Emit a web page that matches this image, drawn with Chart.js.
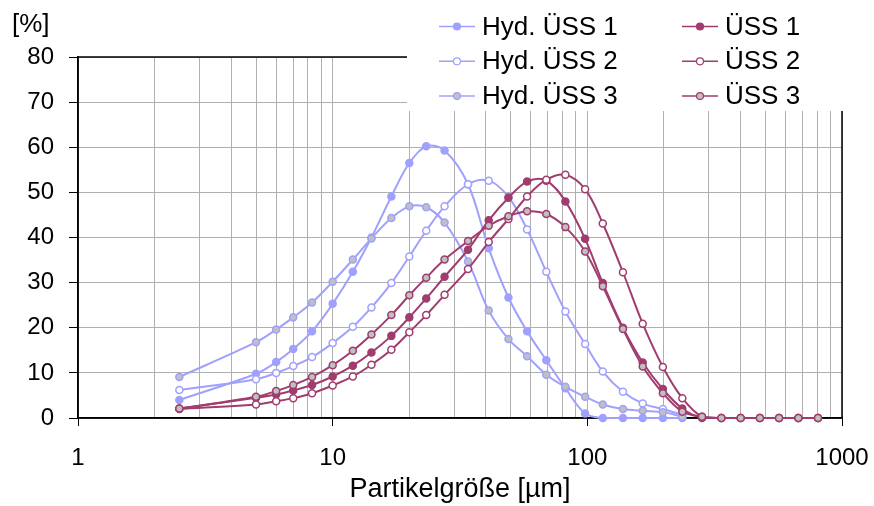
<!DOCTYPE html>
<html>
<head>
<meta charset="utf-8">
<script src="https://cdn.jsdelivr.net/npm/chart.js@4/dist/chart.umd.min.js"></script>
<style>
  html, body { margin: 0; padding: 0; background: #fff; }
  #wrap { width: 874px; height: 506px; }
</style>
</head>
<body>
<div id="wrap"><canvas id="mychart" width="874" height="506"></canvas></div>
<script>
// Partikelgröße in µm (gemeinsame Stützstellen)
const groessen = [2.5, 5, 6, 7, 8.3, 10, 12, 14.2, 17, 20, 23.3, 27.5, 34, 41, 49, 58, 69, 82, 98, 115, 138, 165, 198, 236, 282, 336, 400, 476, 566, 674, 805]

// Anteil in %
const hydUss1 = [4.0, 9.8, 12.4, 15.3, 19.2, 25.3, 32.4, 40.0, 49.1, 56.5, 60.2, 59.3, 51.8, 37.6, 26.7, 19.2, 12.8, 6.6, 1.0, 0, 0, 0, 0, 0]
const hydUss2 = [6.2, 8.6, 10.0, 11.5, 13.5, 16.6, 20.2, 24.5, 29.9, 35.8, 41.5, 46.9, 51.8, 52.6, 49.0, 41.8, 32.4, 23.6, 16.4, 10.3, 5.8, 3.2, 2.0, 0.7]
const hydUss3 = [9.1, 16.8, 19.6, 22.3, 25.6, 30.2, 35.1, 39.8, 44.3, 46.9, 46.7, 43.3, 34.7, 23.8, 17.5, 13.7, 9.6, 6.9, 4.7, 3.0, 2.0, 1.6, 1.3, 0.3]
const uss1 = [2.1, 4.5, 5.2, 6.1, 7.3, 9.2, 11.6, 14.5, 18.2, 22.3, 26.5, 31.3, 37.3, 43.8, 48.8, 52.4, 52.6, 48.0, 39.7, 29.9, 20.0, 12.3, 6.4, 2.1, 0, 0, 0, 0, 0, 0, 0]
const uss2 = [2.0, 3.0, 3.7, 4.4, 5.5, 7.2, 9.2, 11.8, 15.1, 19.0, 22.8, 27.3, 33.0, 39.0, 44.1, 49.1, 52.8, 53.9, 50.7, 43.1, 32.3, 20.9, 11.3, 4.4, 0.3, 0, 0, 0, 0, 0, 0]
const uss3 = [2.1, 4.7, 6.0, 7.3, 9.1, 11.7, 14.9, 18.5, 22.8, 27.2, 31.1, 35.1, 39.2, 42.6, 44.7, 45.8, 45.2, 42.3, 36.9, 29.2, 19.7, 11.4, 5.5, 1.4, 0.3, 0, 0, 0, 0, 0, 0]

const namen = ['Hyd. ÜSS 1', 'Hyd. ÜSS 2', 'Hyd. ÜSS 3', 'ÜSS 1', 'ÜSS 2', 'ÜSS 3']
const reihen = [hydUss1, hydUss2, hydUss3, uss1, uss2, uss3]

const yTicks = [0, 10, 20, 30, 40, 50, 60, 70, 80]
const xTicks = []
for (let d = 1; d < 1000; d *= 10) {
    for (let m = 1; m < 10; m++) xTicks.push(m * d)
}
xTicks.push(1000)

const blau = '#a0a0ff'
const pflaume = '#a03c6e'
const fuellung = ['solid', 'white', '#c0c0c0']
const schrift = '"Liberation Sans", Arial, sans-serif'

function istDekade(v) {
    return [1, 10, 100, 1000].includes(v)
}

const datasets = reihen.map((werte, i) => {
    const farbe = i < 3 ? blau : pflaume
    const f = fuellung[i % 3]
    return {
        label: namen[i],
        data: werte.map((y, k) => ({ x: groessen[k], y: y })),
        borderColor: farbe,
        backgroundColor: farbe,
        pointBackgroundColor: f === 'solid' ? farbe : f,
        pointBorderColor: farbe,
        pointBorderWidth: 1.5,
        pointRadius: 3.5,
        borderWidth: 2,
        tension: 0.35,
        clip: false,
        order: 6 - i
    }
})

// Legende oben rechts mit weißem Hintergrund, dazu "[%]" über der y-Achse
const extras = {
    id: 'extras',
    beforeDatasetsDraw(chart) {
        const a = chart.chartArea
        const ctx = chart.ctx
        ctx.save()
        ctx.strokeStyle = '#000'
        ctx.lineWidth = 1.5
        ctx.strokeRect(a.left, a.top, a.right - a.left, a.bottom - a.top)
        ctx.restore()
    },
    afterDraw(chart) {
        const ctx = chart.ctx
        ctx.save()
        ctx.fillStyle = '#fff'
        ctx.fillRect(407, 0, 874 - 407, 111)

        chart.data.datasets.forEach((ds, i) => {
            const col = i < 3 ? 0 : 1
            const row = i % 3
            const x0 = 439 + col * 243
            const y = 26.5 + row * 34.8
            ctx.strokeStyle = ds.borderColor
            ctx.lineWidth = 1.5
            ctx.beginPath()
            ctx.moveTo(x0, y)
            ctx.lineTo(x0 + 36, y)
            ctx.stroke()
            ctx.beginPath()
            ctx.arc(x0 + 18, y, 3.5, 0, Math.PI * 2)
            ctx.fillStyle = ds.pointBackgroundColor
            ctx.fill()
            ctx.lineWidth = 1.2
            ctx.stroke()
            ctx.fillStyle = '#000'
            ctx.font = '26px ' + schrift
            ctx.textBaseline = 'middle'
            ctx.fillText(ds.label, x0 + 43, y + 1)
        })

        ctx.fillStyle = '#000'
        ctx.font = '26px ' + schrift
        ctx.textBaseline = 'alphabetic'
        ctx.fillText('[%]', 12, 32)
        ctx.restore()
    }
}

const canvas = document.getElementById('mychart')
const ctx = canvas.getContext('2d')
const chart = new Chart(ctx, {
    type: 'line',
    data: { datasets: datasets },
    plugins: [extras],
    options: {
        responsive: false,
        devicePixelRatio: 1,
        animation: false,
        layout: { padding: { top: 57, right: 32, left: 0, bottom: 0 } },
        plugins: {
            legend: { display: false },
            tooltip: { enabled: false }
        },
        scales: {
            x: {
                type: 'logarithmic',
                min: 1,
                max: 1000,
                afterBuildTicks: scale => {
                    scale.ticks = xTicks.map(v => ({ value: v }))
                },
                afterFit: scale => {
                    scale.height = 88
                    scale.paddingLeft = 0
                    scale.paddingRight = 0
                },
                ticks: {
                    autoSkip: false,
                    maxRotation: 0,
                    padding: 18,
                    color: '#000',
                    font: { family: schrift, size: 24 },
                    callback: v => istDekade(v) ? String(v) : ''
                },
                grid: {
                    color: '#b0b0b0',
                    lineWidth: 1,
                    tickLength: 8,
                    tickColor: c => (c.tick && istDekade(c.tick.value)) ? '#000' : 'rgba(0,0,0,0)'
                },
                border: { color: '#000', width: 1.5 },
                title: {
                    display: true,
                    text: 'Partikelgröße [µm]',
                    color: '#000',
                    padding: { top: 0, bottom: 0 },
                    font: { family: schrift, size: 27 }
                }
            },
            y: {
                min: 0,
                max: 80,
                afterBuildTicks: scale => {
                    scale.ticks = yTicks.map(v => ({ value: v }))
                },
                afterFit: scale => { scale.width = 78 },
                ticks: {
                    padding: 15,
                    color: '#000',
                    font: { family: schrift, size: 24 }
                },
                grid: {
                    color: '#b0b0b0',
                    lineWidth: 1,
                    tickLength: 9,
                    tickColor: '#000'
                },
                border: { color: '#000', width: 1.5 }
            }
        }
    }
})
</script>
</body>
</html>
